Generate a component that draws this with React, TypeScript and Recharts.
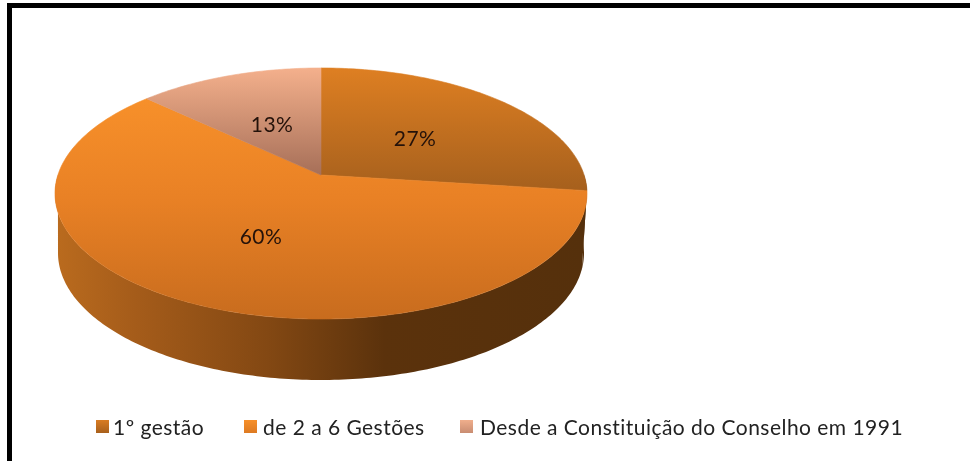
import { Legend, Pie, PieChart } from 'recharts'

const categories = ['1º gestão', 'de 2 a 6 Gestões', 'Desde a Constituição do Conselho em 1991']
const shares = [27, 60, 13]
const percentLabels = ['27%', '60%', '13%']
const topFills = ['url(#top0)', 'url(#top1)', 'url(#top2)']
const swatchFills = [
  'linear-gradient(#d97c22, #a8601c)',
  'linear-gradient(#f7902a, #dd7a22)',
  'linear-gradient(#f0ae8c, #c98d72)',
]

const data = categories.map((name, i) => ({ name, value: shares[i] }))

// perspective of the tilted disc, unit circle -> screen
const CX = 321
const CY = 175
const HALF_WIDTH = 263.1
const HALF_HEIGHT = 122.8
const TILT = 0.1474
const RAD = Math.PI / 180

// wall: bottom rim of the disc
const WALL_RX = 263
const WALL_RY = 127
const WALL_CY = 253

function project(angle: number, f = 1) {
  // recharts angles: 90 = up, going clockwise as they decrease
  const u = Math.cos(angle * RAD) * f
  const v = -Math.sin(angle * RAD) * f
  const w = 1 - TILT * v
  return { x: CX + (HALF_WIDTH * u) / w, y: CY + (HALF_HEIGHT * v) / w }
}

function TopSlice(props: any) {
  const { startAngle, endAngle, index } = props
  const steps = Math.ceil(Math.abs(endAngle - startAngle))
  let d = `M${CX},${CY}`
  for (let i = 0; i <= steps; i++) {
    const p = project(startAngle + ((endAngle - startAngle) * i) / steps)
    d += `L${p.x.toFixed(2)},${p.y.toFixed(2)}`
  }
  return <path d={d + 'Z'} fill={topFills[index]} stroke={topFills[index]} strokeWidth={0.6} />
}

function WallSlice(props: any) {
  const { startAngle, endAngle } = props
  // only the front of the rim shows: screen angles 0 to -180
  const from = Math.min(startAngle, 0)
  const to = Math.max(endAngle, -180)
  if (from <= to) return <g />
  const steps = Math.ceil(from - to)
  const top: string[] = []
  const bottom: string[] = []
  for (let i = 0; i <= steps; i++) {
    const a = from + ((to - from) * i) / steps
    const p = project(a)
    top.push(`${p.x.toFixed(2)},${p.y.toFixed(2)}`)
    const bx = CX + WALL_RX * Math.cos(a * RAD)
    const by = WALL_CY - WALL_RY * Math.sin(a * RAD)
    bottom.unshift(`${bx.toFixed(2)},${by.toFixed(2)}`)
  }
  return <path d={`M${top.join('L')}L${bottom.join('L')}Z`} fill="url(#wall)" />
}

function SliceLabel(props: any) {
  const { midAngle, index } = props
  const p = project(midAngle, 0.5)
  return (
    <text x={p.x} y={p.y + 1} textAnchor="middle" dominantBaseline="central" fontSize={21} letterSpacing={0.5} fill="#24120a" fontFamily="Lato">
      {percentLabels[index]}
    </text>
  )
}

function LegendRow() {
  const swatchX = [96, 244, 460]
  const textX = [113, 263, 480]
  return (
    <div style={{ position: 'relative', height: 30 }}>
      {categories.map((name, i) => (
        <div key={name}>
          <div style={{ position: 'absolute', left: swatchX[i], top: 9, width: 13, height: 13, background: swatchFills[i] }} />
          <span style={{ position: 'absolute', left: textX[i], top: 2, fontFamily: 'Lato', fontSize: 21, letterSpacing: 0.47, lineHeight: '28px', color: '#222', whiteSpace: 'nowrap' }}>
            {name}
          </span>
        </div>
      ))}
    </div>
  )
}

export default function App() {
  return (
    <div style={{ position: 'absolute', left: 0, top: 0, width: 970, height: 461, background: '#fff', overflow: 'hidden' }}>
      <div style={{ position: 'absolute', left: 7, top: 3, width: 970, height: 480, border: '5px solid #000', boxSizing: 'border-box' }} />
      <PieChart width={970} height={461} margin={{ top: 0, right: 0, bottom: 0, left: 0 }} style={{ position: 'absolute', left: 0, top: 0, filter: 'blur(0.5px)' }}>
        <defs>
          <linearGradient id="top0" gradientUnits="userSpaceOnUse" x1="0" y1="68" x2="0" y2="190">
            <stop offset="0" stopColor="#de7f22" />
            <stop offset="1" stopColor="#a6601d" />
          </linearGradient>
          <linearGradient id="top1" gradientUnits="userSpaceOnUse" x1="0" y1="98" x2="0" y2="319">
            <stop offset="0" stopColor="#f7902a" />
            <stop offset="0.45" stopColor="#e98125" />
            <stop offset="1" stopColor="#c86c1e" />
          </linearGradient>
          <linearGradient id="top2" gradientUnits="userSpaceOnUse" x1="0" y1="68" x2="0" y2="175">
            <stop offset="0" stopColor="#f4b08c" />
            <stop offset="1" stopColor="#a66f58" />
          </linearGradient>
          <linearGradient id="wall" gradientUnits="userSpaceOnUse" x1="55" y1="0" x2="587" y2="0">
            <stop offset="0" stopColor="#ba6b1e" />
            <stop offset="0.15" stopColor="#a55c1a" />
            <stop offset="0.4" stopColor="#834813" />
            <stop offset="0.62" stopColor="#5b320c" />
            <stop offset="1" stopColor="#55300c" />
          </linearGradient>
        </defs>
        <Pie
          data={data}
          dataKey="value"
          nameKey="name"
          cx={CX}
          cy={CY}
          outerRadius={HALF_WIDTH}
          startAngle={90}
          endAngle={-270}
          paddingAngle={0}
          stroke="none"
          shape={WallSlice}
          isAnimationActive={false}
        />
        <Pie
          data={data}
          dataKey="value"
          nameKey="name"
          cx={CX}
          cy={CY}
          outerRadius={HALF_WIDTH}
          startAngle={90}
          endAngle={-270}
          paddingAngle={0}
          stroke="none"
          shape={TopSlice}
          label={SliceLabel}
          labelLine={false}
          isAnimationActive={false}
        />
        <Legend verticalAlign="bottom" content={<LegendRow />} wrapperStyle={{ left: 0, width: 970, top: 411 }} />
      </PieChart>
    </div>
  )
}
